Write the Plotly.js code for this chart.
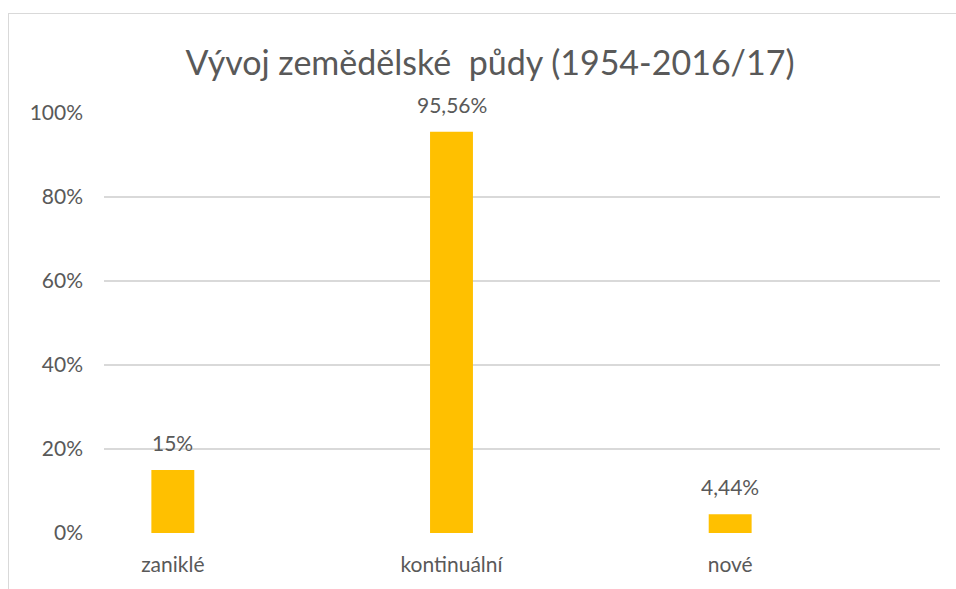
<!DOCTYPE html>
<html>
<head>
<meta charset="utf-8">
<script src="https://cdn.plot.ly/plotly-3.0.1.min.js"></script>
<style>
html,body{margin:0;padding:0;background:#fff;overflow:hidden;}
#frame{position:absolute;left:8px;top:13px;width:1000px;height:640px;border:1.5px solid #d9d9d9;box-sizing:border-box;pointer-events:none;}
#chart{position:absolute;left:0;top:0;width:956px;height:589px;}
</style>
</head>
<body>
<div id="chart"></div>
<div id="frame"></div>
<script>
const categories = ["zaniklé", "kontinuální", "nové"];
const values = [0.15, 0.9556, 0.0444];
const valueLabels = ["15%", "95,56%", "4,44%"];
const yTickVals = [0, 0.2, 0.4, 0.6, 0.8, 1.0];
const yTickText = ["0%", "20%", "40%", "60%", "80%", "100%"];

const FONT = "Lato, 'Liberation Sans Narrow', sans-serif";
const GREY = "#595959";

const trace = {
  type: "bar",
  x: categories,
  y: values,
  width: 0.154,
  marker: {color: "#FFC000"},
  hoverinfo: "none"
};

const annotations = categories.map((c, i) => ({
  x: c, y: values[i], xref: "x", yref: "y",
  text: valueLabels[i], showarrow: false,
  yanchor: "bottom", yshift: 13,
  font: {family: FONT, size: 21, color: GREY}
}));

const layout = {
  width: 956, height: 589,
  margin: {l: 104, r: 16, t: 113, b: 56},
  paper_bgcolor: "#fff", plot_bgcolor: "#fff",
  separators: ",.",
  showlegend: false,
  title: {
    text: "Vývoj zemědělské  půdy (1954-2016/17)",
    font: {family: FONT, size: 34, color: GREY},
    x: 0.5125, xanchor: "center", y: 0.893, yanchor: "middle", xref: "container", yref: "container"
  },
  xaxis: {
    type: "category",
    range: [-0.247, 2.753],
    showgrid: false, zeroline: false, showline: false,
    ticks: "", ticklabelstandoff: 17,
    tickfont: {family: FONT, size: 21, color: GREY},
    fixedrange: true
  },
  yaxis: {
    range: [0, 1],
    tickvals: yTickVals, ticktext: yTickText,
    showgrid: true, gridcolor: "#d9d9d9", gridwidth: 1.5,
    zeroline: false, showline: false, ticks: "",
    ticklabelstandoff: 20,
    tickfont: {family: FONT, size: 21, color: GREY},
    fixedrange: true
  },
  annotations: annotations
};

Plotly.newPlot("chart", [trace], layout, {displayModeBar: false, staticPlot: true});
</script>
</body>
</html>
